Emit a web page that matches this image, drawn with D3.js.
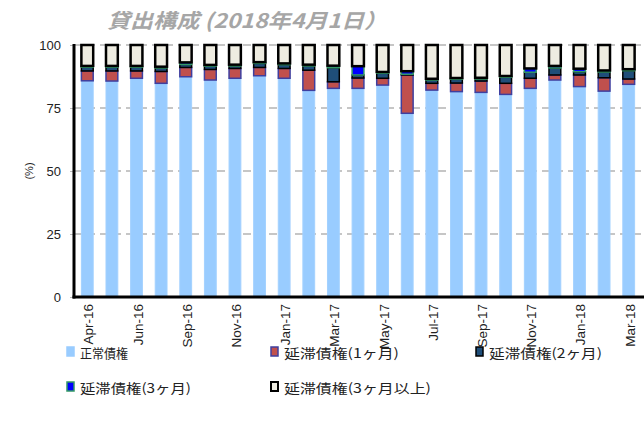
<!DOCTYPE html>
<html><head><meta charset="utf-8">
<script src="https://cdn.jsdelivr.net/npm/d3@7"></script>
<style>body{margin:0;background:#fff}svg{display:block}</style>
</head><body><svg id="c" width="644" height="425"></svg>
<script>
const categories = ["Apr-16","May-16","Jun-16","Aug-16","Sep-16","Oct-16","Nov-16","Dec-16","Jan-17","Feb-17","Mar-17","Apr-17","May-17","Jun-17","Jul-17","Aug-17","Sep-17","Oct-17","Nov-17","Dec-17","Jan-18","Feb-18","Mar-18"];
const shownLabels = ["Apr-16","Jun-16","Sep-16","Nov-16","Jan-17","Mar-17","May-17","Jul-17","Sep-17","Nov-17","Jan-18","Mar-18"];
const yTicks = [0,25,50,75,100];
const seriesNames = ["正常債権","延滞債権(1ヶ月)","延滞債権(2ヶ月)","延滞債権(3ヶ月)","延滞債権(3ヶ月以上)"];
const normal    = [85.8,85.7,86.8,84.8,87.4,86.1,86.8,87.8,86.8,82.0,82.8,82.8,84.1,72.9,82.1,81.5,81.2,80.4,82.8,86.1,83.5,81.7,84.4];
const late1     = [3.9,4.0,2.9,4.7,3.7,4.2,3.9,3.3,3.9,8.0,2.6,4.1,2.7,15.2,2.7,3.4,4.5,4.4,4.0,2.0,4.6,5.3,2.1];
const late2     = [1.5,1.5,1.5,1.4,1.2,1.3,1.0,1.6,1.5,1.7,5.6,1.2,2.0,0.3,1.3,1.5,0.8,2.4,2.4,2.8,1.3,2.3,3.3];
const late3     = [0.5,0.5,0.5,0.5,0.8,0.5,0.5,0.5,0.5,0.5,0.8,3.5,0.5,1.2,0.5,0.5,0.5,0.5,1.5,0.8,1.2,0.6,0.6];
const late3plus = [8.3,8.3,8.3,8.6,6.9,7.9,7.8,6.8,7.3,7.8,8.2,8.4,10.7,10.4,13.4,13.1,13.0,12.3,9.3,8.3,9.4,10.1,9.6];

const seriesData = [normal, late1, late2, late3, late3plus];
const styles = [
  {fill:"#99ccff", stroke:"#a3d1ff", sw:1},
  {fill:"#c0504d", stroke:"#3f3f9f", sw:1.5},
  {fill:"#1f4e79", stroke:"#000000", sw:1.5},
  {fill:"#0000ff", stroke:"#339966", sw:1.5},
  {fill:"#eeece1", stroke:"#000000", sw:2.5}
];

const svg = d3.select("#c");
const mLeft = 74, mBottom = 297, mTop = 45;
const x = d3.scaleBand().domain(categories).range([mLeft, 642]).paddingInner(0.52).paddingOuter(0.3);
const y = d3.scaleLinear().domain([0,100]).range([mBottom, mTop]);

// title
svg.append("text").attr("x",107).attr("y",28)
  .attr("font-family","'Noto Sans CJK JP', 'Liberation Sans', sans-serif")
  .attr("font-size",20).attr("font-weight","bold").attr("font-style","italic")
  .attr("textLength",280).attr("lengthAdjust","spacingAndGlyphs")
  .attr("fill","#a6a6a6").text("貸出構成 (2018年4月1日）");

// grid
svg.append("g").selectAll("line").data(yTicks.filter(d=>d>0)).join("line")
  .attr("x1",mLeft).attr("x2",644).attr("y1",d=>y(d)).attr("y2",d=>y(d))
  .attr("stroke","#c6c6c6").attr("stroke-width",2).attr("stroke-dasharray","8,5");

// y axis
const ya = svg.append("g").attr("transform",`translate(${mLeft},0)`)
  .call(d3.axisLeft(y).tickValues(yTicks).tickSize(4).tickPadding(9));
ya.select(".domain").remove();
ya.selectAll(".tick line").attr("stroke","#bbb");
ya.selectAll("text").attr("font-family","'Liberation Sans', Arial, sans-serif").attr("font-size",13).attr("fill","#222");

svg.append("text").attr("transform","translate(33,171) rotate(-90)").attr("text-anchor","middle")
  .attr("font-family","'Liberation Sans', Arial, sans-serif").attr("font-size",11).attr("fill","#222").text("(%)");

// bars
const stacked = categories.map((c,i)=>{
  let acc = 0;
  return seriesData.map((s,k)=>{ const y0 = acc; acc += s[i]; return {c, k, y0, y1: acc}; });
});
const bw = x.bandwidth();
const g = svg.append("g");
stacked.forEach(segs=>{
  segs.forEach(s=>{
    const st = styles[s.k];
    g.append("rect")
      .attr("x", x(s.c)).attr("width", bw)
      .attr("y", y(s.y1)).attr("height", Math.max(0.1, y(s.y0)-y(s.y1)))
      .attr("fill", st.fill).attr("stroke", st.stroke).attr("stroke-width", st.sw);
  });
});

// axes lines
svg.append("line").attr("x1",mLeft).attr("x2",mLeft).attr("y1",mTop-1).attr("y2",mBottom+1.5).attr("stroke","#000").attr("stroke-width",3);
svg.append("line").attr("x1",mLeft-1.5).attr("x2",644).attr("y1",mBottom).attr("y2",mBottom).attr("stroke","#000").attr("stroke-width",3);

// x labels
const xa = svg.append("g").attr("transform",`translate(0,${mBottom})`)
  .call(d3.axisBottom(x).tickValues(shownLabels).tickSize(0).tickPadding(0));
xa.select(".domain").remove();
xa.selectAll("text").attr("font-family","'Liberation Sans', Arial, sans-serif").attr("font-size",13.5).attr("fill","#222")
  .attr("text-anchor","end").attr("dy",null).attr("y",0).attr("x",0)
  .attr("transform","translate(6,7) rotate(-90)");

// legend
const legendPos = [[67,353],[271,353],[476,353],[67,388],[271,388]];
const legendWidths = [48,115,113,111,147];
const lg = svg.append("g");
seriesNames.forEach((n,k)=>{
  const [lx,ly] = legendPos[k], st = styles[k];
  lg.append("rect").attr("x",lx).attr("y",ly-6).attr("width",7).attr("height",9)
    .attr("fill",st.fill).attr("stroke",k===0?st.fill:st.stroke).attr("stroke-width",k===4?2:1.5);
  lg.append("text").attr("x",lx+13).attr("y",ly+5)
    .attr("font-family","'Noto Sans CJK JP', 'Liberation Sans', sans-serif").attr("font-size",13).attr("fill","#222")
    .attr("textLength",legendWidths[k]).attr("lengthAdjust","spacingAndGlyphs").text(n);
});
</script></body></html>
